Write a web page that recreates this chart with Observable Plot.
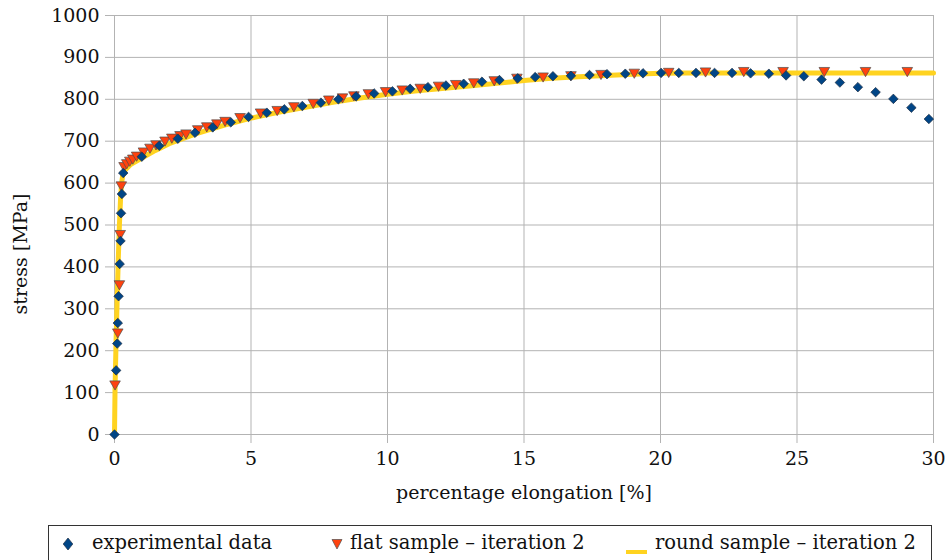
<!DOCTYPE html>
<html>
<head>
<meta charset="utf-8">
<script src="https://cdn.jsdelivr.net/npm/d3@7"></script>
<script src="https://cdn.jsdelivr.net/npm/@observablehq/plot@0.6"></script>
<style>
  body { margin: 0; background: #fff; font-family: "DejaVu Serif", serif; }
  #wrap { position: relative; width: 948px; height: 560px; overflow: hidden; background: #fff; }
  #legend { position: absolute; left: 48px; top: 525px; width: 884px; height: 50px; border: 1px solid #333; box-sizing: border-box; }
  .sw { position: absolute; }
  .lt { position: absolute; top: 6px; font-size: 19.5px; line-height: 22px; color: #111; white-space: nowrap; }
</style>
</head>
<body>
<div id="wrap">
  <div id="chart"></div>
  <div id="legend"></div>
</div>
<script>
// ---- data ----
const seriesNames = ["experimental data", "flat sample – iteration 2", "round sample – iteration 2"];
const xTicks = [0, 5, 10, 15, 20, 25, 30];
const yTicks = [0, 100, 200, 300, 400, 500, 600, 700, 800, 900, 1000];

// experimental data (diamonds)
const expX = [0, 0.06, 0.10, 0.12, 0.15, 0.19, 0.22, 0.24, 0.27, 0.32, 1.00, 1.64, 2.32, 2.95, 3.60, 4.26, 4.91, 5.58, 6.22, 6.88, 7.56, 8.20, 8.85, 9.51, 10.18, 10.83, 11.48, 12.14, 12.79, 13.46, 14.10, 14.77, 15.41, 16.06, 16.72, 17.40, 18.04, 18.71, 19.36, 20.02, 20.67, 21.30, 21.98, 22.62, 23.30, 23.97, 24.60, 25.25, 25.90, 26.57, 27.23, 27.88, 28.53, 29.19, 29.83];
const expY = [0, 153, 217, 266, 330, 407, 462, 528, 574, 624, 663, 689, 706, 720, 733, 745, 758, 768, 776, 784, 792, 800, 807, 814, 819, 825, 829, 833, 837, 842, 846, 850, 853, 855, 856, 858, 860, 861, 862, 863, 863, 863, 863, 863, 862, 861, 857, 855, 847, 840, 829, 817, 801, 780, 753];

// flat sample – iteration 2 (down triangles)
const flatX = [0.02, 0.12, 0.18, 0.21, 0.25, 0.35, 0.45, 0.56, 0.67, 0.81, 1.06, 1.30, 1.52, 1.85, 2.10, 2.40, 2.62, 3.05, 3.38, 3.75, 4.05, 4.60, 5.35, 5.96, 6.57, 7.28, 7.85, 8.35, 8.77, 9.30, 9.93, 10.54, 11.20, 11.87, 12.50, 13.16, 13.91, 14.74, 15.70, 16.72, 17.82, 19.04, 20.30, 21.65, 23.05, 24.49, 26.00, 27.51, 29.04];
const flatY = [117, 241, 356, 476, 592, 638, 645, 651, 656, 663, 673, 682, 690, 699, 706, 712, 716, 726, 733, 740, 746, 755, 766, 772, 781, 789, 797, 802, 807, 812, 817, 821, 825, 830, 834, 838, 843, 849, 852, 855, 858, 861, 863, 864, 865, 865, 865, 865, 865];

// round sample – iteration 2 (thick yellow line)
const roundX = [0, 0.02, 0.06, 0.10, 0.14, 0.18, 0.22, 0.26, 0.30, 0.40, 0.60, 1.0, 1.5, 2, 3, 4, 5, 6, 7, 8, 9, 10, 11, 12, 13, 14, 15, 16, 17, 18, 19, 20, 21, 22, 30];
const roundY = [0, 110, 230, 330, 420, 500, 560, 600, 618, 632, 645, 660, 678, 694, 718, 738, 755, 769, 781, 793, 803, 812, 820, 826, 832, 838, 845, 850, 854, 857, 860, 862, 863, 863, 863];

const colors = ["#004586", "#ff420e", "#ffd320"];

// ---- tables built from the arrays ----
const expData = expX.map((x, i) => ({x, y: expY[i]}));
const flatData = flatX.map((x, i) => ({x, y: flatY[i]}));
const roundData = roundX.map((x, i) => ({x, y: roundY[i]}));

// down-pointing triangle symbol centred on its bounding box
const triDown = {
  draw(ctx, size) {
    const r = Math.sqrt(size / Math.PI);
    const w = r * 1.15, h = r;
    ctx.moveTo(-w, -h);
    ctx.lineTo(w, -h);
    ctx.lineTo(0, h);
    ctx.closePath();
  }
};

const chart = Plot.plot({
  width: 948,
  height: 520,
  marginLeft: 114,
  marginRight: 15,
  marginTop: 15,
  marginBottom: 86,
  style: {fontFamily: '"DejaVu Serif", serif', fontSize: "19px", color: "#111", background: "#fff", overflow: "visible"},
  x: {domain: [0, 30]},
  y: {domain: [0, 1000]},
  marks: [
    Plot.ruleY(yTicks, {y: d => d, stroke: "#b3b3b3"}),
    Plot.ruleX(xTicks, {x: d => d, stroke: "#b3b3b3"}),
    Plot.axisY({ticks: yTicks, tickFormat: d => String(d), tickSize: 9, tickPadding: 6, stroke: "#b3b3b3", fill: "#111", fontSize: 19, label: null}),
    Plot.axisX({ticks: xTicks, tickFormat: d => String(d), tickSize: 9, tickPadding: 8, stroke: "#b3b3b3", fill: "#111", fontSize: 19, label: null}),
    Plot.line(roundData, {x: "x", y: "y", stroke: colors[2], strokeWidth: 5}),
    Plot.dot(flatData, {x: "x", y: "y", symbol: triDown, r: 4.6, fill: colors[1], stroke: "#4d4d4d", strokeWidth: 0.7}),
    Plot.dot(expData, {x: "x", y: "y", symbol: "diamond2", r: 4.3, fill: colors[0], stroke: "#1f2f45", strokeWidth: 0.7}),
    Plot.text(["stress [MPa]"], {text: d => d, frameAnchor: "left", textAnchor: "middle", lineAnchor: "middle", dx: -94, dy: 29, rotate: -90, fontSize: 19, fill: "#111"}),
    Plot.text(["percentage elongation [%]"], {text: d => d, frameAnchor: "bottom", textAnchor: "middle", lineAnchor: "middle", dy: 58, fontSize: 19, fill: "#111"})
  ]
});
document.getElementById("chart").appendChild(chart);

// ---- legend (HTML, below the SVG) ----
const legend = document.getElementById("legend");
const items = [
  {sw: `<svg width="14" height="14" viewBox="-7 -7 14 14"><path d="M0,-6L4.8,0L0,6L-4.8,0Z" fill="${colors[0]}" stroke="#1f2f45" stroke-width="0.7"/></svg>`, swLeft: 12, swTop: 10, textLeft: 43},
  {sw: `<svg width="14" height="14" viewBox="-7 -7 14 14"><path d="M-5,-4.5L5,-4.5L0,5Z" fill="${colors[1]}" stroke="#4d4d4d" stroke-width="0.7"/></svg>`, swLeft: 281, swTop: 10, textLeft: 301},
  {sw: `<svg width="22" height="6"><line x1="0" y1="3" x2="21" y2="3" stroke="${colors[2]}" stroke-width="4"/></svg>`, swLeft: 577, swTop: 14, textLeft: 606}
];
items.forEach((it, i) => {
  const s = document.createElement("div");
  s.className = "sw";
  s.style.left = it.swLeft + "px";
  s.style.top = it.swTop + "px";
  s.innerHTML = it.sw;
  legend.appendChild(s);
  const t = document.createElement("div");
  t.className = "lt";
  t.style.left = it.textLeft + "px";
  t.textContent = seriesNames[i];
  legend.appendChild(t);
});
</script>
</body>
</html>
